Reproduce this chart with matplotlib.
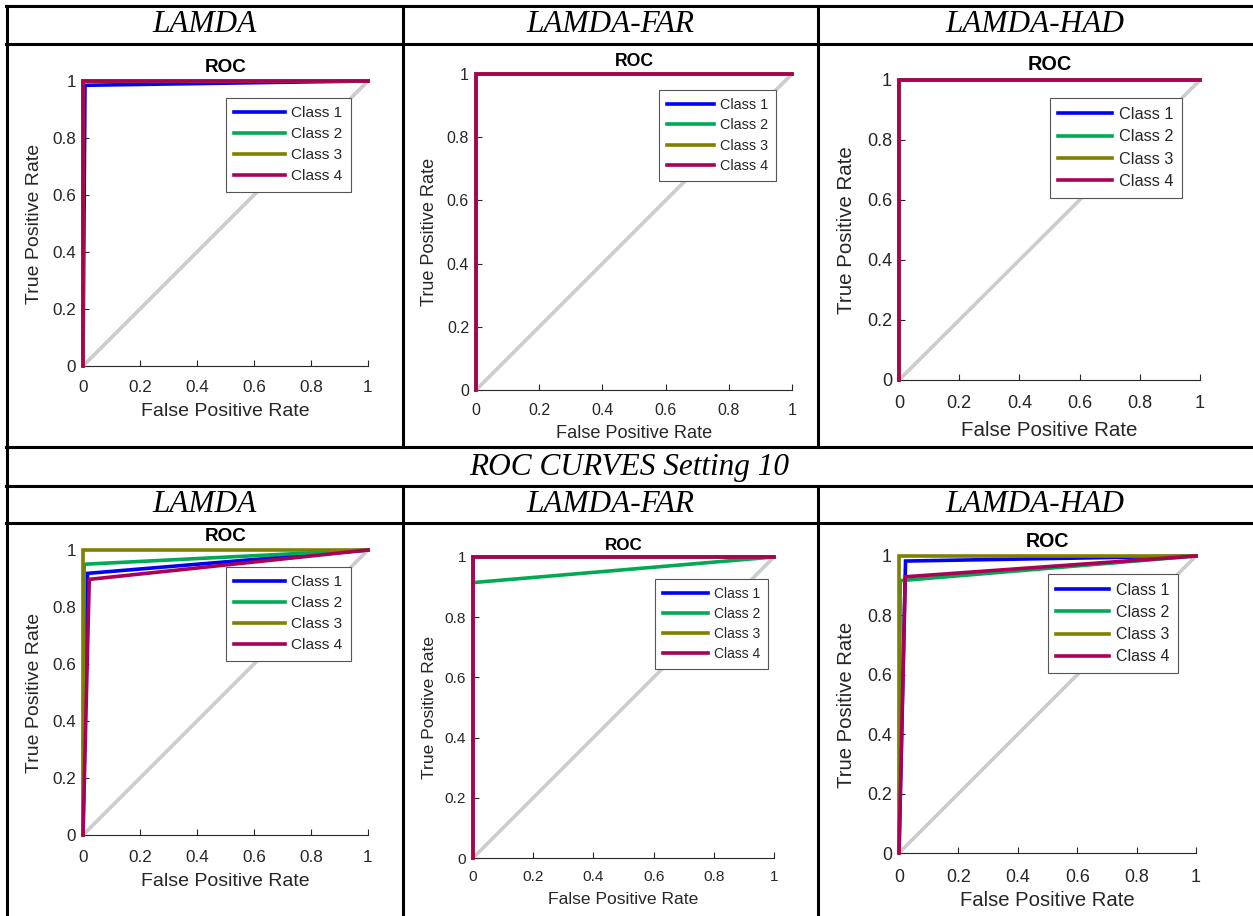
import numpy as np
import matplotlib.pyplot as plt
from matplotlib.lines import Line2D

W, H = 1253, 916
plt.rcParams['font.family'] = ['Liberation Sans', 'DejaVu Sans']

methods = ['LAMDA', 'LAMDA-FAR', 'LAMDA-HAD']
setting_title = 'ROC CURVES Setting 10'
classes = ['Class 1', 'Class 2', 'Class 3', 'Class 4']
colors = ['#0000ff', '#00aa55', '#808000', '#aa0055']
ticks = [0, 0.2, 0.4, 0.6, 0.8, 1]
tick_labels = ['0', '0.2', '0.4', '0.6', '0.8', '1']

# ROC points per class (fpr, tpr) -- upper row
up_lamda_fpr = [[0, 0.007, 1], [0, 0, 1], [0, 0, 1], [0, 0, 1]]
up_lamda_tpr = [[0, 0.985, 1], [0, 1, 1], [0, 1, 1], [0, 1, 1]]
up_far_fpr = [[0, 0, 1], [0, 0, 1], [0, 0, 1], [0, 0, 1]]
up_far_tpr = [[0, 1, 1], [0, 1, 1], [0, 1, 1], [0, 1, 1]]
up_had_fpr = [[0, 0, 1], [0, 0, 1], [0, 0, 1], [0, 0, 1]]
up_had_tpr = [[0, 1, 1], [0, 1, 1], [0, 1, 1], [0, 1, 1]]

# setting 10 -- lower row
s10_lamda_fpr = [[0, 0.016, 1], [0, 0.004, 1], [0, 0, 1], [0, 0.022, 1]]
s10_lamda_tpr = [[0, 0.918, 1], [0, 0.95, 1], [0, 1, 1], [0, 0.897, 1]]
s10_far_fpr = [[0, 0, 1], [0, 0, 1], [0, 0, 1], [0, 0, 1]]
s10_far_tpr = [[0, 1, 1], [0, 0.915, 1], [0, 1, 1], [0, 1, 1]]
s10_had_fpr = [[0, 0.022, 1], [0, 0.004, 1], [0, 0, 1], [0, 0.021, 1]]
s10_had_tpr = [[0, 0.983, 1], [0, 0.917, 1], [0, 1, 1], [0, 0.93, 1]]

curves = [(up_lamda_fpr, up_lamda_tpr), (up_far_fpr, up_far_tpr), (up_had_fpr, up_had_tpr),
          (s10_lamda_fpr, s10_lamda_tpr), (s10_far_fpr, s10_far_tpr), (s10_had_fpr, s10_had_tpr)]

# panel boxes in pixels: x0, x1, ytop, ybottom, label size, legend right, legend top,
# ylabel offset, xlabel offset, title offset, ticklabel offset
panels = [
    (83, 368, 81, 366, 14.0, 351, 98, 48, 46, 16, 20),
    (476, 792, 74, 390, 13.1, 776, 90, 46, 43, 15, 19),
    (899, 1200, 80, 380, 14.8, 1182, 98, 52, 50, 17, 22),
    (83, 368, 550, 835, 14.0, 351, 567, 48, 47, 16, 21),
    (473, 774, 557, 858, 12.6, 768, 579, 44, 41, 14, 18),
    (899, 1196, 556, 853, 14.6, 1178, 574, 52, 47, 16, 22),
]

fig = plt.figure(figsize=(W / 100, H / 100), dpi=100)
dark = '#262626'
clw = 2.6


def fx(x):
    return x / W


def fy(y):
    return 1 - y / H


for (fpr, tpr), p in zip(curves, panels):
    x0, x1, yt, yb, fs, lr, lt, yoff, xoff, toff, toff2 = p
    w, h = x1 - x0, yb - yt
    ax = fig.add_axes([fx(x0), fy(yb), w / W, h / H])
    ax.plot([0, 1], [0, 1], color='#cccccc', lw=clw, clip_on=False, zorder=3)
    for i in range(4):
        ax.plot(fpr[i], tpr[i], color=colors[i], lw=clw, label=classes[i],
                clip_on=False, solid_joinstyle='miter', zorder=3)
    ax.set_xlim(0, 1)
    ax.set_ylim(0, 1)
    ax.set_xticks(ticks)
    ax.set_yticks(ticks)
    ax.set_xticklabels(tick_labels)
    ax.set_yticklabels(tick_labels)
    for s in ['top', 'right']:
        ax.spines[s].set_visible(False)
    for s in ['left', 'bottom']:
        ax.spines[s].set_color(dark)
        ax.spines[s].set_linewidth(0.8)
    tfs = fs * 0.88
    ax.tick_params(direction='in', length=4, width=0.8, colors=dark,
                   labelsize=tfs, labelcolor=dark)
    ax.tick_params(axis='x', pad=(toff2 - tfs * 0.5) * 0.72)
    ax.tick_params(axis='y', pad=5)
    ax.set_xlabel('False Positive Rate', fontsize=fs, color=dark, va='center')
    ax.xaxis.set_label_coords(0.5, -xoff / h)
    ax.set_ylabel('True Positive Rate', fontsize=fs, color=dark, va='center')
    ax.yaxis.set_label_coords(-yoff / w, 0.5)
    ax.set_title('ROC', fontsize=fs * 0.97, fontweight='bold', pad=toff * 0.72 - 5)
    leg = ax.legend(loc='upper right', bbox_to_anchor=(fx(lr), fy(lt)),
                    bbox_transform=fig.transFigure, borderaxespad=0,
                    fontsize=fs * 0.79, handlelength=3.3, handletextpad=0.4,
                    labelspacing=0.45, borderpad=0.55, fancybox=False,
                    framealpha=1)
    leg.set_zorder(5)
    leg.get_frame().set_edgecolor('#555555')
    leg.get_frame().set_linewidth(0.8)
    for t in leg.get_texts():
        t.set_color(dark)

# table rules
lw = 2.2
hlines = [6, 44, 447, 486, 523]
for y in hlines:
    fig.add_artist(Line2D([fx(6), 1], [fy(y), fy(y)], color='black', lw=lw))
fig.add_artist(Line2D([fx(7), fx(7)], [fy(6), 0], color='black', lw=lw))
for x in [403, 818]:
    fig.add_artist(Line2D([fx(x), fx(x)], [fy(6), fy(447)], color='black', lw=lw))
    fig.add_artist(Line2D([fx(x), fx(x)], [fy(486), 0], color='black', lw=lw))

# header texts
serif = ['Liberation Serif', 'DejaVu Serif']
centers = [205, 610, 1035]
for yc in [25, 505]:
    for xc, m in zip(centers, methods):
        fig.text(fx(xc), fy(yc), m, ha='center', va='center', fontsize=22.5,
                 style='italic', family=serif)
fig.text(fx(629), fy(467), setting_title, ha='center', va='center', fontsize=22.5,
         style='italic', family=serif)

fig.savefig('out.png', dpi=100)
